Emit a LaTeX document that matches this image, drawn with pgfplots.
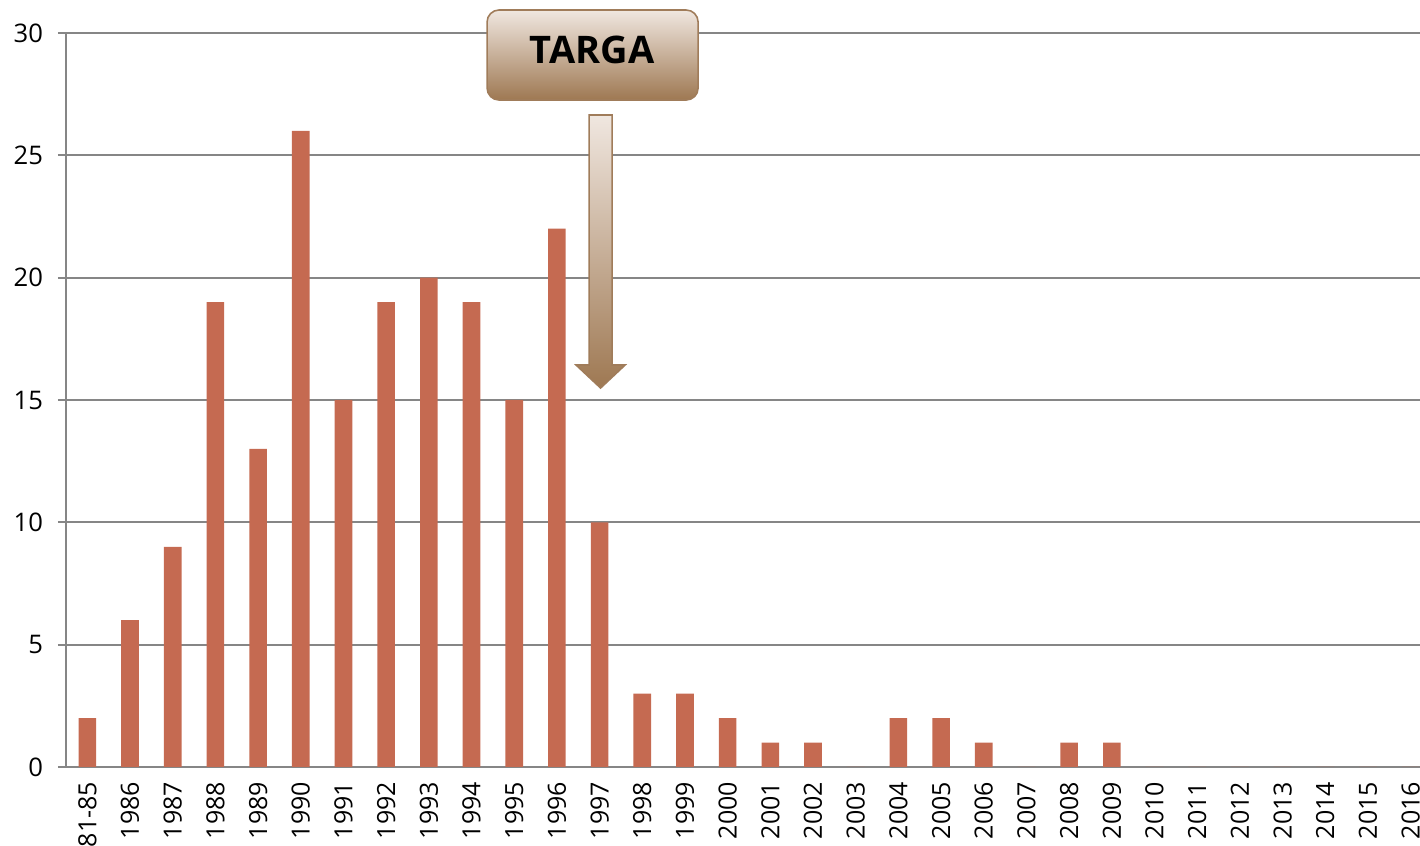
\documentclass[border=0pt]{standalone}
\usepackage{pgfplots}
\pgfplotsset{compat=1.18}
\usepackage{fontspec}
\setmainfont{Open Sans}
\usetikzlibrary{calc}
\definecolor{barc}{RGB}{197,106,81}
\definecolor{gridc}{RGB}{134,134,134}
\definecolor{boxtop}{RGB}{240,231,224}
\definecolor{boxbot}{RGB}{158,120,82}
\definecolor{boxedge}{RGB}{160,124,90}
\begin{document}
\begin{tikzpicture}
\begin{axis}[
  scale only axis, width=683pt, height=367pt,
  xmin=-0.5, xmax=31.5, ymin=0, ymax=30,
  ybar, bar width=8.8pt,
  axis x line=bottom, axis y line=left,
  axis line style={-, gridc, line width=1pt},
  xtick={0,...,31},
  xticklabels={81-85,1986,1987,1988,1989,1990,1991,1992,1993,1994,1995,1996,1997,1998,1999,2000,2001,2002,2003,2004,2005,2006,2007,2008,2009,2010,2011,2012,2013,2014,2015,2016},
  major x tick style={draw=none},
  extra x ticks={-0.5,0.5,...,31.5},
  extra x tick labels={},
  extra x tick style={major tick length=3.5pt, tick style={gridc, line width=1pt}, grid=none},
  ytick={0,5,...,30},
  ymajorgrids, grid style={gridc, line width=1pt},
  tick align=outside,
  major tick length=4pt,
  tick style={gridc, line width=1pt},
  xticklabel style={rotate=90, anchor=east, font=\fontsize{12.5}{15}\selectfont},
  yticklabel style={font=\fontsize{12.8}{15}\selectfont, xshift=-4pt},
  /pgf/number format/assume math mode=true,
  clip=false,
]
\addplot[fill=barc, draw=none] coordinates {
(0,2) (1,6) (2,9) (3,19) (4,13) (5,26) (6,15) (7,19) (8,20) (9,19) (10,15) (11,22) (12,10) (13,3) (14,3) (15,2) (16,1) (17,1) (18,0) (19,2) (20,2) (21,1) (22,0) (23,1) (24,1) (25,0) (26,0) (27,0) (28,0) (29,0) (30,0) (31,0)};
\shade[rounded corners=6pt, top color=boxtop, bottom color=boxbot, draw=boxedge, line width=0.8pt]
  (axis cs:9.364,27.26) rectangle (axis cs:14.308,30.94);
\node[font=\fontsize{19}{22}\selectfont\bfseries] at (axis cs:11.824,29.3) {TARGA};
\shade[top color=boxtop, bottom color=boxbot, draw=boxedge, line width=0.8pt]
  (axis cs:11.754,26.65) -- (axis cs:12.293,26.65) -- (axis cs:12.293,16.43) -- (axis cs:12.597,16.43)
  -- (axis cs:12.023,15.49) -- (axis cs:11.449,16.43) -- (axis cs:11.754,16.43) -- cycle;
\end{axis}
\pgfresetboundingbox
\path ($(current axis.south west)+(-33pt,-39.5pt)$) rectangle ($(current axis.north east)+(-6pt,16.5pt)$);
\end{tikzpicture}
\end{document}
